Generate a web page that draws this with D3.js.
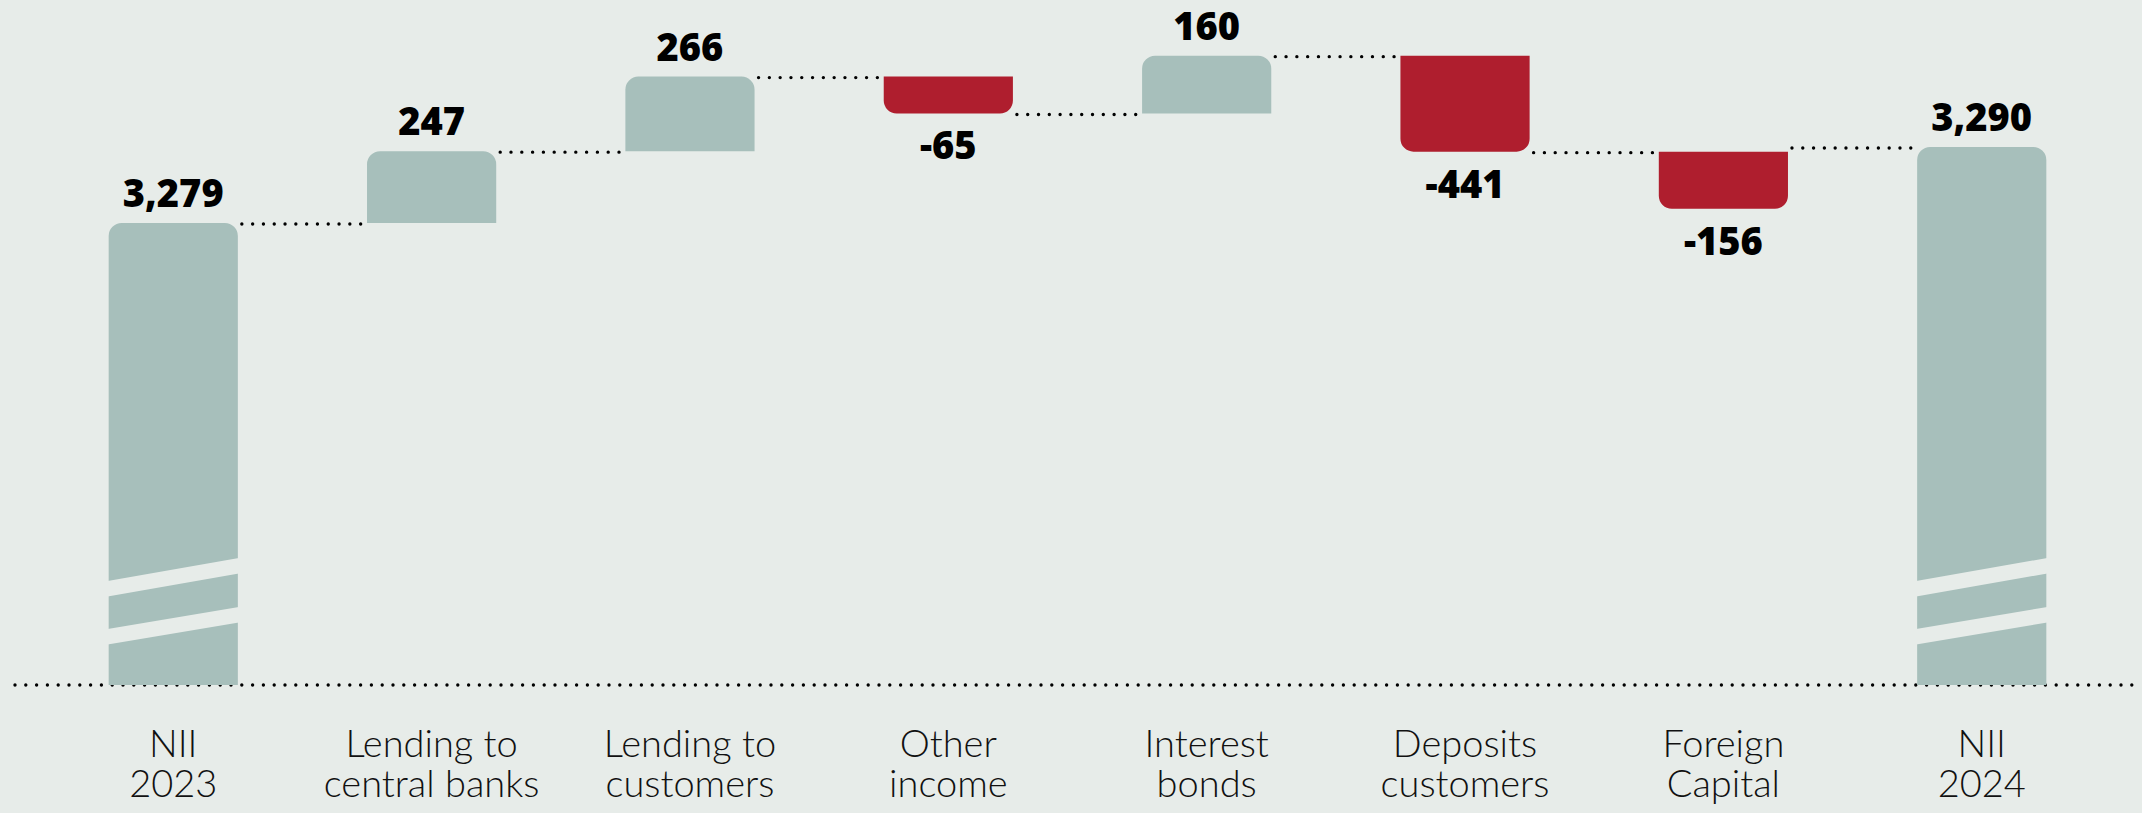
<!DOCTYPE html>
<html>
<head>
<meta charset="utf-8">
<script src="https://cdn.jsdelivr.net/npm/d3@7"></script>
<style>
  html, body { margin: 0; padding: 0; background: #e7ece9; }
  svg { display: block; }
  .value { font-family: "Open Sans", sans-serif; font-weight: 800; font-size: 38px; fill: #000; }
  .cat { font-family: "Lato", sans-serif; font-weight: 300; font-size: 38px; fill: #111; }
</style>
</head>
<body>
<svg id="chart"></svg>
<script>
// data
const categories = [
    ["NII", "2023"],
    ["Lending to", "central banks"],
    ["Lending to", "customers"],
    ["Other", "income"],
    ["Interest", "bonds"],
    ["Deposits", "customers"],
    ["Foreign", "Capital"],
    ["NII", "2024"]
];
const values = [3279, 247, 266, -65, 160, -441, -156, 3290];
const kinds = ["total", "delta", "delta", "delta", "delta", "delta", "delta", "total"];

const width = 2142, height = 813;
const baseline = 685;
const colors = { pos: "#a7bfbb", neg: "#af1e2e", bg: "#e7ece9" };

const svg = d3.select("#chart").attr("width", width).attr("height", height);

svg.append("rect").attr("width", width).attr("height", height).attr("fill", colors.bg);

const x = d3.scaleBand()
    .domain(d3.range(values.length))
    .range([57, 2098])
    .paddingInner(0.5)
    .paddingOuter(0.2);

// broken axis: the two totals sit on their own (zoomed) scale,
// the changes are sized by a sqrt scale
const yTotal = d3.scaleLinear().domain([values[0], values[values.length - 1]]).range([223, 147]);
const hDelta = d3.scaleSqrt().domain([0, 441]).range([0, 96]);

const fmt = d3.formatLocale({decimal: ".", thousands: ",", grouping: [3], currency: ["", ""], minus: "-"}).format(",");

// running levels in pixels
let level = yTotal(values[0]);
const bars = values.map((v, i) => {
    let top, bottom, start;
    if (kinds[i] == "total") {
        top = yTotal(v);
        bottom = baseline;
        start = top;
        level = top;
    } else if (v >= 0) {
        start = level;
        bottom = level;
        top = level - hDelta(v);
        level = top;
    } else {
        start = level;
        top = level;
        bottom = level + hDelta(-v);
        level = bottom;
    }
    return {i: i, v: v, kind: kinds[i], top: top, bottom: bottom, start: start};
});

function barPath(x0, y0, w, h, r, roundTop) {
    const p = d3.path();
    if (roundTop) {
        p.moveTo(x0, y0 + h);
        p.lineTo(x0, y0 + r);
        p.arcTo(x0, y0, x0 + r, y0, r);
        p.lineTo(x0 + w - r, y0);
        p.arcTo(x0 + w, y0, x0 + w, y0 + r, r);
        p.lineTo(x0 + w, y0 + h);
    } else {
        p.moveTo(x0, y0);
        p.lineTo(x0 + w, y0);
        p.lineTo(x0 + w, y0 + h - r);
        p.arcTo(x0 + w, y0 + h, x0 + w - r, y0 + h, r);
        p.lineTo(x0 + r, y0 + h);
        p.arcTo(x0, y0 + h, x0, y0 + h - r, r);
    }
    p.closePath();
    return p.toString();
}

const dotted = {stroke: "#000", "stroke-width": 3.4, "stroke-linecap": "round", "stroke-dasharray": "0 10.8"};

// baseline
const base = svg.append("line")
    .attr("x1", 15).attr("x2", width)
    .attr("y1", baseline).attr("y2", baseline);
Object.entries(dotted).forEach(([k, v]) => base.attr(k, v));

// connectors, drawn at the level where the next bar starts
svg.append("g").selectAll("line")
    .data(bars.slice(1))
    .join("line")
    .attr("x1", d => x(d.i - 1) + x.bandwidth() + 4)
    .attr("x2", d => x(d.i) - 4)
    .attr("y1", d => d.start + 1)
    .attr("y2", d => d.start + 1)
    .each(function() {
        const sel = d3.select(this);
        Object.entries(dotted).forEach(([k, v]) => sel.attr(k, v));
    });

// bars
svg.append("g").selectAll("path")
    .data(bars)
    .join("path")
    .attr("d", d => barPath(x(d.i), d.top, x.bandwidth(), d.bottom - d.top, 13, d.kind == "total" || d.v >= 0))
    .attr("fill", d => (d.kind == "delta" && d.v < 0) ? colors.neg : colors.pos);

// axis break marks on the totals
const breaks = [[104, 127], [56, 78]];
const gap = 15.5;
svg.append("g").selectAll("g")
    .data(bars.filter(d => d.kind == "total"))
    .join("g")
    .selectAll("path")
    .data(d => breaks.map(b => ({x0: x(d.i), w: x.bandwidth(), l: b[0], r: b[1]})))
    .join("path")
    .attr("d", d => {
        const p = d3.path();
        p.moveTo(d.x0 - 1, baseline - d.l);
        p.lineTo(d.x0 + d.w + 1, baseline - d.r);
        p.lineTo(d.x0 + d.w + 1, baseline - d.r + gap);
        p.lineTo(d.x0 - 1, baseline - d.l + gap);
        p.closePath();
        return p.toString();
    })
    .attr("fill", colors.bg);

// value labels
svg.append("g").selectAll("text")
    .data(bars)
    .join("text")
    .attr("class", "value")
    .attr("text-anchor", "middle")
    .attr("x", d => x(d.i) + x.bandwidth() / 2)
    .attr("y", d => (d.kind == "delta" && d.v < 0) ? d.bottom + 46 : d.top - 16)
    .text(d => fmt(d.v));

// category labels
const cat = svg.append("g").selectAll("text")
    .data(categories)
    .join("text")
    .attr("class", "cat")
    .attr("text-anchor", "middle")
    .attr("x", (d, i) => x(i) + x.bandwidth() / 2)
    .attr("y", 757);
cat.selectAll("tspan")
    .data(d => d)
    .join("tspan")
    .attr("x", function() { return d3.select(this.parentNode).attr("x"); })
    .attr("dy", (d, j) => j == 0 ? 0 : 40)
    .text(d => d);
</script>
</body>
</html>
